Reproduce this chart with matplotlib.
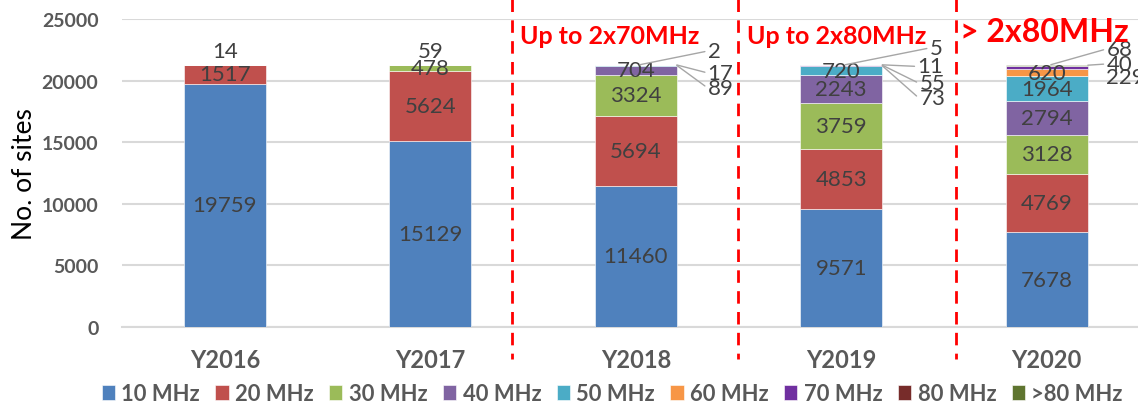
import matplotlib
matplotlib.use('Agg')
import matplotlib.pyplot as plt
import numpy as np

plt.rcParams['font.family'] = ['Lato', 'DejaVu Sans']

# Data
years = ['Y2016', 'Y2017', 'Y2018', 'Y2019', 'Y2020']
bands = ['10 MHz', '20 MHz', '30 MHz', '40 MHz', '50 MHz', '60 MHz', '70 MHz', '80 MHz', '>80 MHz']
mhz10 = [19759, 15129, 11460, 9571, 7678]
mhz20 = [1517, 5624, 5694, 4853, 4769]
mhz30 = [14, 478, 3324, 3759, 3128]
mhz40 = [0, 59, 704, 2243, 2794]
mhz50 = [0, 0, 89, 720, 1964]
mhz60 = [0, 0, 17, 73, 620]
mhz70 = [0, 0, 2, 55, 229]
mhz80 = [0, 0, 0, 11, 40]
mhz80plus = [0, 0, 0, 5, 68]
series = [mhz10, mhz20, mhz30, mhz40, mhz50, mhz60, mhz70, mhz80, mhz80plus]
colors = ['#4F81BD', '#C0504D', '#9BBB59', '#8064A2', '#4BACC6',
          '#F79646', '#7030A0', '#772C2A', '#5F7530']
notes = ['Up to 2x70MHz', 'Up to 2x80MHz', '> 2x80MHz']

# manual placement of labels for thin segments: (year idx, series idx) -> (x, y, ha, leader point)
label_place = {
    (0, 2): (0.0, 22400, 'center', None),
    (1, 3): (1.0, 22400, 'center', None),
    (2, 4): (2.35, 19400, 'left', (2.2, 21230)),
    (2, 5): (2.35, 20620, 'left', (2.2, 21270)),
    (2, 6): (2.35, 22400, 'left', (2.02, 21290)),
    (3, 5): (3.38, 18550, 'left', (3.2, 21200)),
    (3, 6): (3.38, 19770, 'left', (3.2, 21250)),
    (3, 7): (3.37, 21150, 'left', (3.2, 21280)),
    (3, 8): (3.43, 22650, 'left', (3.02, 21290)),
    (4, 6): (4.29, 20330, 'left', None),
    (4, 7): (4.29, 21350, 'left', (4.2, 21250)),
    (4, 8): (4.29, 22565, 'left', (4.02, 21290)),
}

fig = plt.figure(figsize=(11.38, 4.10), dpi=100)
ax = fig.add_axes([122 / 1138, 82 / 410, 1027.5 / 1138, 308 / 410])

x = np.arange(len(years))
width = 0.4
bottom = np.zeros(len(years))
label_color = '#404040'

for i, vals in enumerate(series):
    vals = np.array(vals, dtype=float)
    ax.bar(x, vals, width, bottom=bottom, color=colors[i], label=bands[i],
           edgecolor='white', linewidth=0.4, zorder=3)
    for j, v in enumerate(vals):
        if v == 0:
            continue
        if (j, i) in label_place:
            tx, ty, ha, lead = label_place[(j, i)]
            if lead is None:
                ax.text(tx, ty, f'{int(v)}', ha=ha, va='center', fontsize=16,
                        color=label_color, zorder=5)
            else:
                ax.annotate(f'{int(v)}', xy=lead, xytext=(tx, ty), ha=ha, va='center',
                            fontsize=16, color=label_color, zorder=5,
                            arrowprops=dict(arrowstyle='-', color='#A6A6A6', lw=1,
                                            relpos=(0, 0.5), shrinkA=0, shrinkB=0))
        else:
            ax.text(j, bottom[j] + v / 2, f'{int(v)}', ha='center', va='center',
                    fontsize=16, color=label_color, zorder=5)
    bottom += vals

ax.set_xlim(-0.5, 4.5)
ax.set_ylim(0, 25000)
ax.set_yticks(range(0, 25001, 5000))
ax.set_xticks(x)
ax.set_xticklabels(years, fontsize=17, fontweight='bold', color='#595959')
ax.tick_params(axis='y', labelsize=14, labelcolor='#595959', length=0, pad=17)
ax.tick_params(axis='x', length=0, pad=15)
for lab in ax.get_yticklabels():
    lab.set_fontweight('bold')
ax.set_ylabel('No. of sites', fontsize=19, color='black')
ax.yaxis.set_label_coords(-0.083, 0.5)
ax.grid(axis='y', color='#D9D9D9', linewidth=1.5, zorder=0)
for s in ['top', 'right', 'left']:
    ax.spines[s].set_visible(False)
ax.spines['bottom'].set_color('#D9D9D9')
ax.spines['bottom'].set_linewidth(1.5)

# red dashed separators
for sx in [1.40, 2.50, 3.56]:
    ax.plot([sx, sx], [1.065, -0.104], color='red', lw=2, linestyle=(0, (4.5, 3)),
            transform=ax.get_xaxis_transform(), clip_on=False, zorder=6)

tr = ax.get_xaxis_transform()
ax.text(1.875, 0.945, notes[0], transform=tr, ha='center', va='center',
        fontsize=18, fontweight='bold', color='red', zorder=7)
ax.text(2.98, 0.945, notes[1], transform=tr, ha='center', va='center',
        fontsize=18, fontweight='bold', color='red', zorder=7)
ax.text(3.99, 0.961, notes[2], transform=tr, ha='center', va='center',
        fontsize=23, fontweight='bold', color='red', zorder=7)

fig.legend(loc='center', bbox_to_anchor=(0.538, 0.037), ncol=9, frameon=False,
           prop={'size': 15.8, 'weight': 'bold'}, labelcolor='#595959',
           handlelength=0.6, handleheight=0.7, handletextpad=0.3, columnspacing=0.7)

fig.savefig('out.png', dpi=100)
